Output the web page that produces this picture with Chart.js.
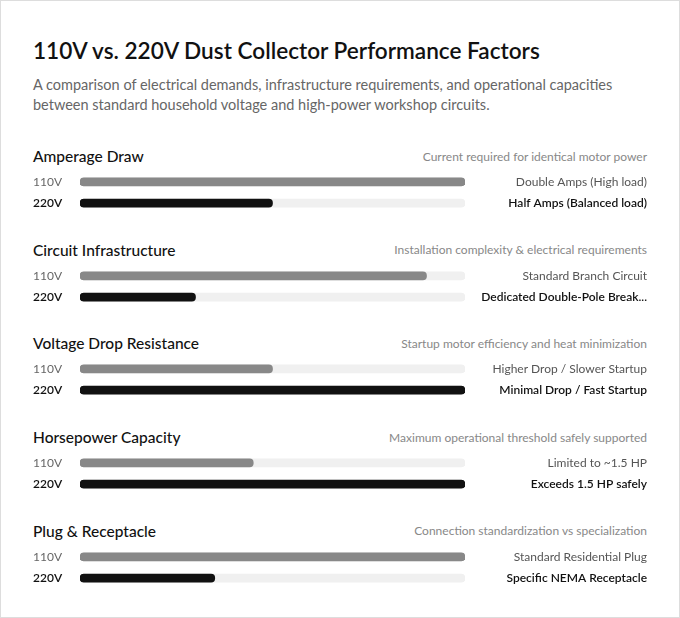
<!DOCTYPE html>
<html>
<head>
<meta charset="utf-8">
<script src="https://cdn.jsdelivr.net/npm/chart.js@4.4.1/dist/chart.umd.min.js"></script>
<style>
  body { margin: 0; background: #fff; font-family: Lato, "Noto Sans", sans-serif; }
  .card {
    width: 614px; height: 581px; border: 1px solid #ddd;
    padding: 35px 32px 0 32px; background: #fff;
  }
  h1 { margin: 0; font-size: 22.6px; line-height: 30px; font-weight: 600; color: #111; }
  .sub { margin: 9px 0 0 0; font-size: 14.5px; line-height: 20px; color: #666; }
  .groups { margin-top: 31px; }
  .group { height: 93.7px; }
  .head { display: flex; justify-content: space-between; align-items: center; height: 20px; }
  .head h3 { margin: 0; font-size: 15.5px; font-weight: 500; color: #111; }
  .head span { font-size: 12px; color: #888; }
  .box { position: relative; height: 57px; margin-top: -2px; }
</style>
</head>
<body>
<div class="card">
  <h1>110V vs. 220V Dust Collector Performance Factors</h1>
  <p class="sub">A comparison of electrical demands, infrastructure requirements, and operational capacities between standard household voltage and high-power workshop circuits.</p>
  <div class="groups" id="groups"></div>
</div>
<script>
const categories = ['Amperage Draw', 'Circuit Infrastructure', 'Voltage Drop Resistance', 'Horsepower Capacity', 'Plug & Receptacle'];
const descriptions = [
  'Current required for identical motor power',
  'Installation complexity & electrical requirements',
  'Startup motor efficiency and heat minimization',
  'Maximum operational threshold safely supported',
  'Connection standardization vs specialization'
];
const rowLabels = ['110V', '220V'];
const values110 = [100, 90, 50, 45, 100];
const values220 = [50, 30, 100, 100, 35];
const notes110 = ['Double Amps (High load)', 'Standard Branch Circuit', 'Higher Drop / Slower Startup', 'Limited to ~1.5 HP', 'Standard Residential Plug'];
const notes220 = ['Half Amps (Balanced load)', 'Dedicated Double-Pole Break...', 'Minimal Drop / Fast Startup', 'Exceeds 1.5 HP safely', 'Specific NEMA Receptacle'];

const fontFamily = 'Lato, "Noto Sans", sans-serif';
const wrap = document.getElementById('groups');

categories.forEach((cat, i) => {
  const g = document.createElement('div');
  g.className = 'group';
  g.innerHTML = '<div class="head"><h3></h3><span></span></div><div class="box"><canvas></canvas></div>';
  g.querySelector('h3').textContent = cat;
  g.querySelector('span').textContent = descriptions[i];
  wrap.appendChild(g);

  new Chart(g.querySelector('canvas'), {
    type: 'bar',
    data: {
      labels: rowLabels,
      datasets: [{
        data: [values110[i], values220[i]],
        backgroundColor: ['#888888', '#111111'],
        barThickness: 8,
        borderRadius: 4,
        borderSkipped: false,
        grouped: false,
        order: 0
      }, {
        data: [100, 100],
        backgroundColor: '#f0f0f0',
        barThickness: 8,
        borderRadius: 4,
        borderSkipped: false,
        grouped: false,
        order: 1
      }]
    },
    options: {
      indexAxis: 'y',
      responsive: true,
      maintainAspectRatio: false,
      animation: false,
      layout: { padding: 0 },
      plugins: { legend: { display: false }, tooltip: { enabled: false } },
      scales: {
        x: { display: false, min: 0, max: 100 },
        y: {
          position: 'left',
          grid: { display: false }, border: { display: false },
          afterFit: s => { s.width = 47; },
          ticks: {
            padding: 0, crossAlign: 'far', autoSkip: false,
            color: c => c.index === 0 ? '#666' : '#111',
            font: c => ({ family: fontFamily, size: 12, weight: c.index === 0 ? 'normal' : '600' })
          }
        },
        y2: {
          type: 'category',
          labels: [notes110[i], notes220[i]],
          position: 'right',
          offset: true,
          grid: { display: false }, border: { display: false },
          afterFit: s => { s.width = 182; },
          ticks: {
            padding: 0, crossAlign: 'far', autoSkip: false,
            color: c => c.index === 0 ? '#555' : '#111',
            font: c => ({ family: fontFamily, size: 12, weight: c.index === 0 ? 'normal' : '600' })
          }
        }
      }
    }
  });
});
</script>
</body>
</html>
